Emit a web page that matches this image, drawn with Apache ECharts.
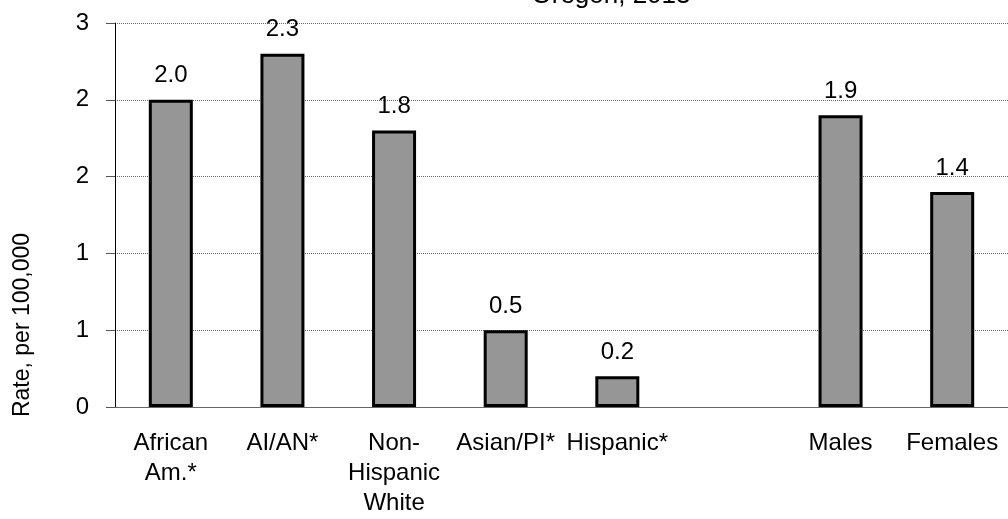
<!DOCTYPE html>
<html>
<head>
<meta charset="utf-8">
<script src="https://cdn.jsdelivr.net/npm/echarts@6/dist/echarts.min.js"></script>
<style>
  html, body { margin: 0; padding: 0; background: #fff; }
  #chart { width: 1008px; height: 519px; }
</style>
</head>
<body>
<div id="chart"></div>
<script>
// ---- data ----
const titleText = 'Oregon, 2013';
const yAxisName = 'Rate, per 100,000';
const categories = ['African\nAm.*', 'AI/AN*', 'Non-\nHispanic\nWhite', 'Asian/PI*', 'Hispanic*', '', 'Males', 'Females'];
const rates = [2.0, 2.3, 1.8, 0.5, 0.2, null, 1.9, 1.4];
const yMin = 0;
const yMax = 2.5;
const yStep = 0.5;

const FONT = "'Liberation Sans', Arial, sans-serif";

const chart = echarts.init(document.getElementById('chart'), null, { renderer: 'canvas' });
chart.setOption({
  animation: false,
  backgroundColor: '#ffffff',
  textStyle: { fontFamily: FONT },
  grid: { left: 115, top: 23, width: 904, height: 384, containLabel: false },
  graphic: [
    {
      type: 'text',
      x: 611, y: -17,
      style: { text: titleText, font: '26px ' + FONT, fill: '#000', textAlign: 'center', textVerticalAlign: 'top' }
    },
    {
      type: 'text',
      x: 23, y: 325,
      rotation: Math.PI / 2,
      style: { text: yAxisName, font: '23px ' + FONT, fill: '#000', textAlign: 'center', textVerticalAlign: 'middle' }
    }
  ],
  xAxis: {
    type: 'category',
    data: categories,
    boundaryGap: true,
    axisLine: { show: true, lineStyle: { color: '#666', width: 1 } },
    axisTick: { show: false },
    axisLabel: {
      interval: 0,
      margin: 21,
      fontSize: 24,
      lineHeight: 30,
      color: '#000',
      fontFamily: FONT
    },
    splitLine: { show: false }
  },
  yAxis: {
    type: 'value',
    min: yMin,
    max: yMax,
    interval: yStep,
    axisLine: { show: true, lineStyle: { color: '#000', width: 1 } },
    axisTick: { show: true, inside: false, length: 9, lineStyle: { color: '#555', width: 1 } },
    axisLabel: {
      margin: 26,
      fontSize: 24,
      color: '#000',
      fontFamily: FONT,
      formatter: v => String(Math.round(v))
    },
    splitLine: { show: true, lineStyle: { color: '#666', width: 1, type: [1, 1] } }
  },
  series: [{
    type: 'bar',
    data: rates,
    barWidth: 44,
    itemStyle: { color: '#969696', borderColor: '#000', borderWidth: 3 },
    label: {
      show: true,
      position: 'top',
      distance: 12,
      fontSize: 24,
      color: '#000',
      fontFamily: FONT,
      formatter: p => (p.value == null ? '' : Number(p.value).toFixed(1))
    }
  }]
});
</script>
</body>
</html>
